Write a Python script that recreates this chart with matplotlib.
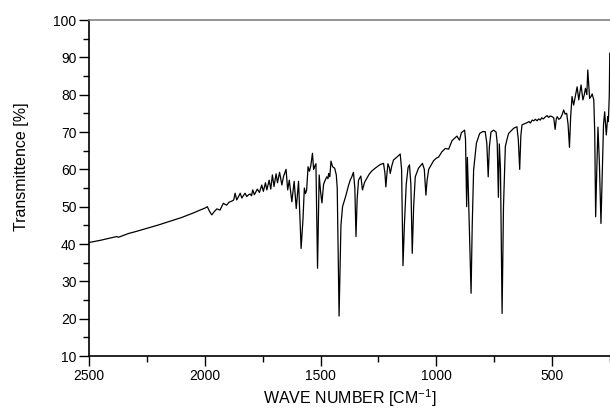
import matplotlib
matplotlib.use("Agg")
import matplotlib.pyplot as plt
from matplotlib.ticker import MultipleLocator

plt.rcParams['font.family'] = ['Liberation Sans', 'DejaVu Sans']
plt.rcParams['mathtext.fontset'] = 'custom'
plt.rcParams['mathtext.rm'] = 'Liberation Sans'
plt.rcParams['mathtext.it'] = 'Liberation Sans'

wavenumber = [
    2500, 2450, 2400, 2380, 2372, 2360, 2330, 2300, 2250, 2200, 2150, 2100, 2050, 2020, 2000,
    1989, 1980, 1970, 1960, 1948, 1934, 1920, 1906, 1895, 1883, 1875, 1869, 1862, 1855, 1847,
    1840, 1833, 1826, 1819, 1811, 1804, 1798, 1793, 1786, 1779, 1773, 1764, 1754, 1747, 1738,
    1732, 1722, 1715, 1708, 1701, 1692, 1686, 1677, 1667, 1660, 1649, 1642, 1635, 1624, 1614,
    1605, 1595, 1584, 1576, 1570, 1565, 1560, 1554, 1548, 1542, 1535, 1530, 1526, 1520, 1513,
    1506, 1500, 1494, 1487, 1480, 1473, 1468, 1465, 1460, 1455, 1448, 1439, 1432, 1428, 1420,
    1412, 1405, 1391, 1380, 1372, 1365, 1358, 1352, 1347, 1342, 1336, 1326, 1319, 1310, 1300,
    1290, 1278, 1260, 1242, 1228, 1222, 1218, 1213, 1209, 1203, 1199, 1192, 1185, 1170, 1156,
    1150, 1144, 1138, 1130, 1122, 1116, 1110, 1104, 1098, 1091, 1077, 1060, 1052, 1045, 1040,
    1033, 1012, 1000, 990, 976, 961, 947, 932, 911, 900, 892, 878, 874, 869, 866,
    862, 850, 845, 839, 827, 813, 800, 789, 782, 776, 771, 764, 753, 742, 737,
    732, 728, 723, 716, 710, 702, 695, 688, 666, 652, 646, 640, 635, 630, 620,
    608, 600, 594, 586, 580, 572, 565, 558, 551, 545, 538, 530, 522, 515, 508,
    500, 493, 487, 482, 478, 471, 464, 457, 450, 444, 437, 431, 425, 420, 414,
    407, 400, 392, 385, 375, 367, 361, 356, 350, 346, 338, 332, 327, 320, 316,
    312, 307, 302, 296, 289, 283, 278, 273, 266, 260, 257, 253, 251,
]
transmittance = [
    40.4, 41.0, 41.7, 42.0, 41.8, 42.1, 42.8, 43.3, 44.2, 45.1, 46.1, 47.1, 48.3, 49.1, 49.6,
    50.0, 48.8, 47.8, 48.6, 49.4, 49.1, 50.9, 50.4, 51.2, 51.5, 51.8, 53.6, 51.8, 52.6, 53.6,
    52.3, 53.0, 53.6, 52.7, 53.2, 53.4, 52.9, 54.5, 53.2, 54.0, 54.7, 53.8, 55.8, 54.1, 56.4,
    54.5, 57.1, 54.7, 58.5, 55.4, 58.8, 56.4, 59.2, 55.8, 58.1, 60.0, 54.5, 57.1, 51.3, 56.8,
    49.5, 56.8, 38.8, 46.5, 55.0, 53.5, 54.5, 60.7, 59.5, 61.0, 64.3, 60.0, 60.7, 61.5, 33.5,
    58.5, 54.0, 51.0, 56.0, 57.1, 58.0, 57.5, 58.9, 58.0, 62.2, 60.7, 60.3, 58.5, 55.0, 20.7,
    45.0, 50.0, 52.9, 55.5, 57.1, 58.0, 59.2, 55.0, 42.0, 52.0, 57.1, 58.2, 54.5, 56.5, 57.6,
    58.7, 59.6, 60.5, 61.3, 61.6, 59.0, 55.3, 59.0, 61.5, 60.5, 58.9, 61.0, 62.5, 63.3, 64.1,
    60.0, 34.2, 45.0, 56.0, 60.5, 61.2, 56.0, 37.5, 50.0, 58.0, 60.3, 61.6, 60.0, 53.1, 57.0,
    60.0, 62.3, 63.0, 63.3, 64.7, 65.6, 65.4, 67.7, 68.9, 67.8, 69.8, 70.5, 68.0, 50.0, 63.2,
    55.0, 26.8, 45.0, 59.8, 67.0, 69.6, 70.1, 70.1, 67.0, 58.0, 66.0, 70.0, 70.5, 70.0, 67.0,
    52.5, 66.8, 60.0, 21.4, 50.0, 66.1, 68.0, 69.6, 71.0, 71.4, 68.0, 60.0, 69.0, 71.9, 72.2,
    72.5, 72.8, 72.4, 73.2, 73.0, 73.4, 73.0, 73.5, 73.2, 73.8, 73.5, 74.0, 74.4, 73.9, 74.3,
    74.1, 73.8, 70.7, 73.5, 74.1, 73.4, 73.7, 74.6, 75.9, 74.8, 75.0, 72.0, 65.9, 74.0, 79.5,
    77.2, 79.5, 82.1, 78.6, 82.6, 78.6, 80.0, 81.7, 80.0, 86.6, 79.0, 79.5, 80.2, 78.6, 70.0,
    47.3, 60.0, 71.3, 62.0, 45.5, 60.0, 72.0, 75.4, 69.2, 74.1, 72.8, 80.0, 91.1,
]

x_ticks = [2500, 2000, 1500, 1000, 500]
y_ticks = [10, 20, 30, 40, 50, 60, 70, 80, 90, 100]

fig = plt.figure(figsize=(6.10, 4.08), dpi=100)
ax = fig.add_axes([89/610, 52/408, 521/610, 336/408])
ax.plot(wavenumber, transmittance, color='black', lw=0.9)

ax.set_xlim(2500, 250)
ax.set_ylim(10, 100)
ax.set_xticks(x_ticks)
ax.set_yticks(y_ticks)
ax.xaxis.set_minor_locator(MultipleLocator(250))
ax.yaxis.set_minor_locator(MultipleLocator(5))
ax.tick_params(which='major', direction='out', length=7, width=1, labelsize=10, pad=2, colors='black')
ax.tick_params(which='minor', direction='out', length=4, width=1)

ax.spines['right'].set_visible(False)
ax.spines['top'].set_color('#808080')
ax.spines['top'].set_linewidth(1.2)
for s in ['left', 'bottom']:
    ax.spines[s].set_linewidth(1.2)
    ax.spines[s].set_color('black')

ax.set_xlabel('WAVE NUMBER [CM$^{-1}$]', fontsize=11.5)
ax.xaxis.set_label_coords((350 - 89) / 521, (408 - 387 - 52) / 336)
ax.set_ylabel('Transmittence [%]', fontsize=11.5)
ax.yaxis.set_label_coords((29 - 89) / 521, (408 - 167 - 52) / 336)

fig.savefig('out.png', dpi=100)
